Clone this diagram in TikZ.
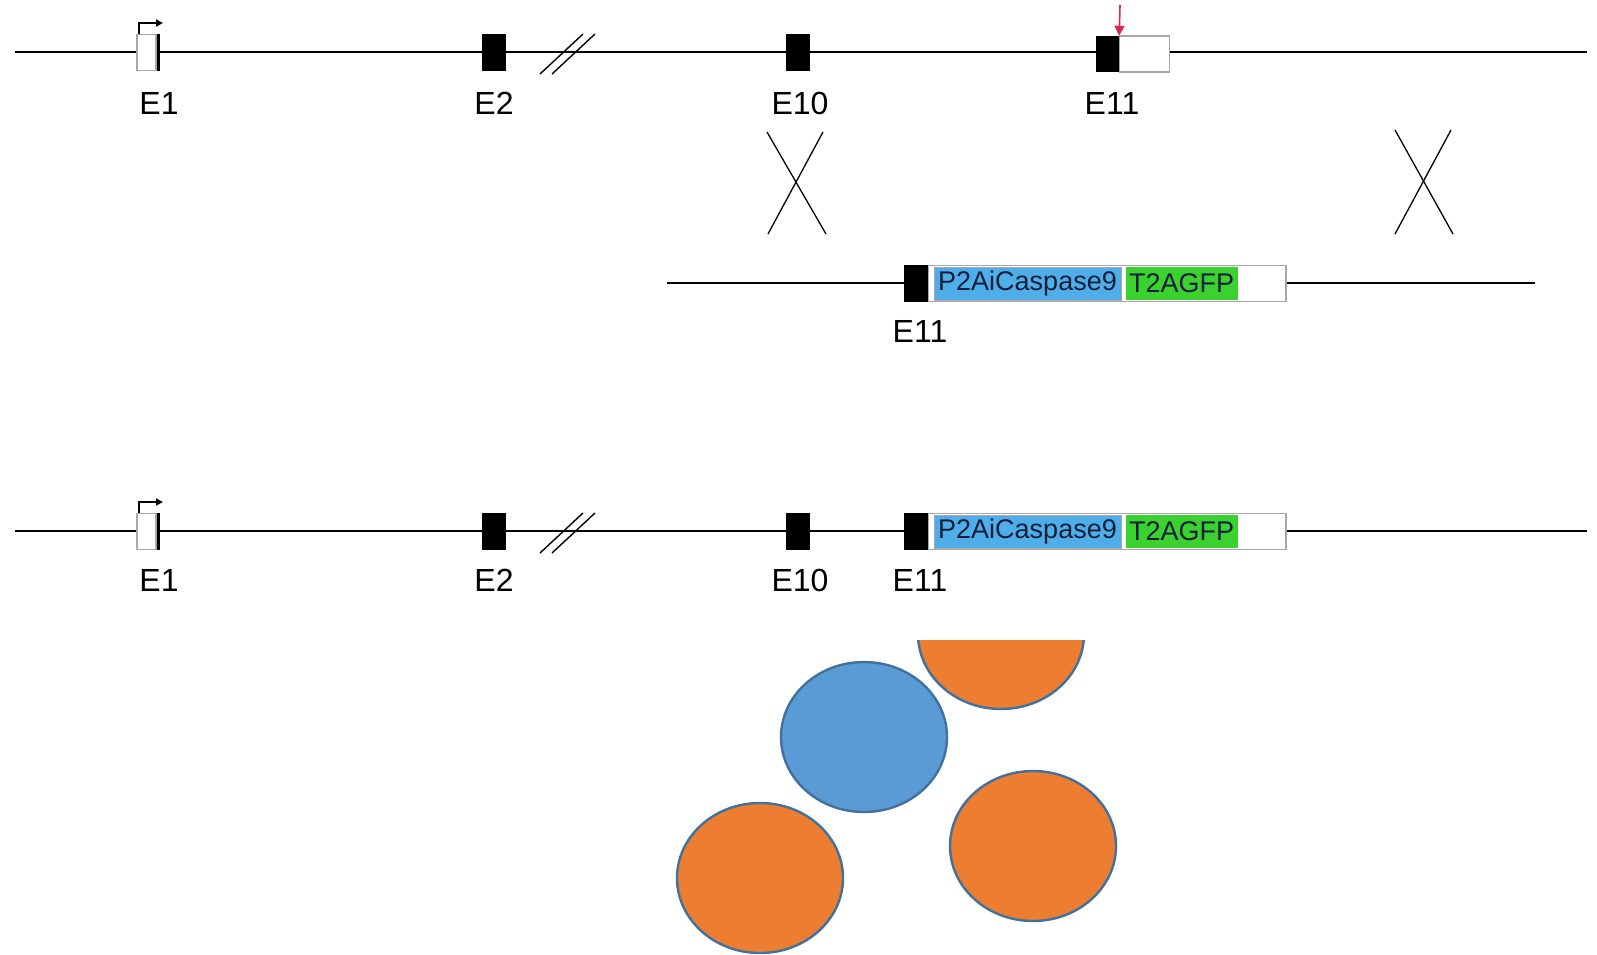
\documentclass[tikz,border=0pt]{standalone}
\usepackage{fontspec}
\setmainfont{Liberation Sans}
\usetikzlibrary{arrows.meta,shapes.geometric}
\definecolor{exblue}{HTML}{4FAEEA}
\definecolor{exgreen}{HTML}{3BD12E}
\definecolor{corange}{HTML}{ED7D31}
\definecolor{cblue}{HTML}{5B9BD5}
\definecolor{cedge}{HTML}{41719C}
\definecolor{cutred}{HTML}{D42A55}
\definecolor{boxgrey}{HTML}{A8A8A8}
\definecolor{castext}{HTML}{10203A}
\begin{document}
\begin{tikzpicture}[x=1pt,y=-1pt,
  backbone/.style={line width=2.6pt, black},
  exonbox/.style={draw=none, fill=black, inner sep=0pt, minimum width=24pt, minimum height=37pt},
  firstex/.style={draw=boxgrey, line width=1.2pt, fill=white, inner sep=0pt, minimum width=19pt, minimum height=36pt},
  utrbox/.style={draw=boxgrey, line width=1.2pt, fill=white, inner sep=0pt, minimum height=36pt},
  lbl/.style={font=\fontsize{32}{36}\selectfont, inner sep=0pt},
  casbox/.style={fill=exblue, draw=boxgrey, line width=0.6pt, inner sep=0pt, minimum height=33pt, font=\fontsize{27}{30}\selectfont, text=castext},
  gfpbox/.style={fill=exgreen, draw=none, inner sep=0pt, minimum height=33pt, font=\fontsize{27}{30}\selectfont, text=castext},
  slash/.style={line width=1.4pt, black},
  crossline/.style={line width=1.3pt, black},
  tss/.style={line width=1.8pt, black, -{Triangle[length=7pt,width=7pt]}},
  cell/.style={ellipse, draw=cedge, line width=2.4pt, minimum width=166pt, minimum height=150pt, inner sep=0pt},
]
\useasboundingbox (0,0) rectangle (1597,954);

% ================= Row 1: wild type locus =================
\coordinate (r1L) at (15,52);
\coordinate (r1R) at (1587,52);
\draw[backbone] (r1L) -- (r1R);
\node[firstex] (a1) at (146.5,52.5) {};
\draw[line width=3pt] (a1.north east) ++(1.5pt,0) coordinate (a1t) -- (a1.south east -| a1t);
\coordinate (a1s) at (139,34);
\coordinate (a1k) at (139,23);
\coordinate (a1e) at (163,23);
\draw[tss] (a1s) -- (a1k) -- (a1e);
\node[exonbox] (a2) at (494,52) {};
\coordinate (s1a) at (540,74); \coordinate (s1b) at (583,34);
\coordinate (s2a) at (552,74); \coordinate (s2b) at (595,34);
\draw[slash] (s1a) -- (s1b);
\draw[slash] (s2a) -- (s2b);
\node[exonbox] (a10) at (797.5,52) {};
\node[exonbox, minimum width=23pt, minimum height=36pt] (a11) at (1107.5,54) {};
\node[utrbox, minimum width=50pt, anchor=west] (a11u) at (a11.east) {};
\coordinate (cut0) at (1120,5);
\draw[cutred, line width=1.6pt, -{Triangle[length=10pt,width=10pt]}] (cut0) -- (a11.north east);
\node[lbl] (la1) at (159,103) {E1};
\node[lbl] (la2) at (494,103) {E2};
\node[lbl] (la10) at (800,103) {E10};
\node[lbl] (la11) at (1112,103) {E11};

% ================= Crossovers =================
\coordinate (x1a) at (767,132); \coordinate (x1b) at (826,234);
\coordinate (x1c) at (823,132); \coordinate (x1d) at (768,234);
\draw[crossline] (x1a) -- (x1b);
\draw[crossline] (x1c) -- (x1d);
\coordinate (x2a) at (1395,130); \coordinate (x2b) at (1453,234);
\coordinate (x2c) at (1451,130); \coordinate (x2d) at (1395,234);
\draw[crossline] (x2a) -- (x2b);
\draw[crossline] (x2c) -- (x2d);

% ================= Row 2: targeting vector =================
\coordinate (r2L) at (667,283);
\coordinate (r2R) at (1535,283);
\draw[backbone] (r2L) -- (r2R);
\node[utrbox, minimum width=358pt, minimum height=36pt] (b11u) at (1107,283.5) {};
\node[exonbox, minimum width=24pt, minimum height=37pt] (b11) at (916,283.5) {};
\node[casbox, minimum width=187pt] (bcas) at (1027.5,283.5) {P2AiCaspase9};
\node[gfpbox, minimum width=112pt] (bgfp) at (1181.5,283.5) {T2AGFP};
\node[lbl] (lb11) at (920,331) {E11};

% ================= Row 3: targeted locus =================
\coordinate (r3L) at (15,531);
\coordinate (r3R) at (1587,531);
\draw[backbone] (r3L) -- (r3R);
\node[firstex] (c1) at (146.5,531.5) {};
\draw[line width=3pt] (c1.north east) ++(1.5pt,0) coordinate (c1t) -- (c1.south east -| c1t);
\coordinate (c1s) at (139,513);
\coordinate (c1k) at (139,502);
\coordinate (c1e) at (163,502);
\draw[tss] (c1s) -- (c1k) -- (c1e);
\node[exonbox] (c2) at (494,531.5) {};
\coordinate (t1a) at (540,553); \coordinate (t1b) at (583,513);
\coordinate (t2a) at (552,553); \coordinate (t2b) at (595,513);
\draw[slash] (t1a) -- (t1b);
\draw[slash] (t2a) -- (t2b);
\node[exonbox] (c10) at (797.5,531.5) {};
\node[utrbox, minimum width=358pt, minimum height=36pt] (c11u) at (1107,531.5) {};
\node[exonbox, minimum width=24pt, minimum height=37pt] (c11) at (916,531.5) {};
\node[casbox, minimum width=187pt] (ccas) at (1027.5,531.5) {P2AiCaspase9};
\node[gfpbox, minimum width=112pt] (cgfp) at (1181.5,531.5) {T2AGFP};
\node[lbl] (lc1) at (159,580) {E1};
\node[lbl] (lc2) at (494,580) {E2};
\node[lbl] (lc10) at (800,580) {E10};
\node[lbl] (lc11) at (920,580) {E11};

% ================= Cells =================
\begin{scope}
  \clip (0,640) rectangle (1597,954);
  \node[cell, fill=corange] (cellTop) at (1001,634) {};
\end{scope}
\node[cell, fill=cblue] (cellBlue) at (864,737) {};
\node[cell, fill=corange] (cellRight) at (1033,846) {};
\node[cell, fill=corange] (cellLeft) at (760,878) {};
\end{tikzpicture}
\end{document}
